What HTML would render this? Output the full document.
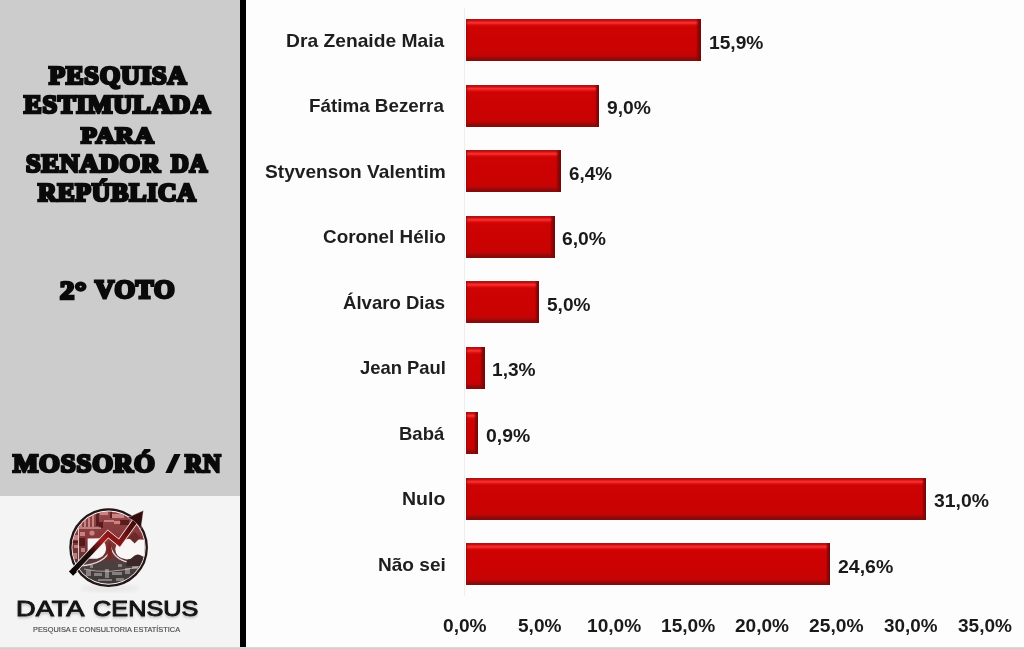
<!DOCTYPE html>
<html><head><meta charset="utf-8"><title>Pesquisa</title>
<style>
html,body{margin:0;padding:0;}
body{width:1024px;height:649px;position:relative;overflow:hidden;background:#fdfdfd;font-family:"Liberation Sans",sans-serif;}
.abs{position:absolute;}
#left{left:-5px;top:-5px;width:246px;height:501px;background:#cccccc;filter:blur(0.6px);}
#logo{left:-5px;top:496px;width:246px;height:160px;background:#f4f4f4;}
#vbar{left:240px;top:-5px;width:6.1px;height:660px;background:#000;filter:blur(0.6px);}
#bline{left:0;top:647.3px;width:1024px;height:3px;background:linear-gradient(#e6e6e6 0,#d2d2d2 0.7px,#cecece 100%);}
#slash{left:164px;top:454px;width:18px;height:19.2px;background:#0a0a0a;clip-path:polygon(1.2px 19.2px,7.6px 19.2px,16.6px 0,10.2px 0);filter:blur(0.5px);}
#axis{left:464px;top:8px;width:1.3px;height:588px;background:#eeeeee;}
.x{filter:blur(0.45px);position:absolute;white-space:nowrap;transform-origin:0 0;line-height:1;font-weight:bold;}
.t{font-family:"Liberation Serif",serif;color:#0a0a0a;-webkit-text-stroke:3.1px #0a0a0a;font-size:28px;letter-spacing:0.9px;}
.lab{color:#1e1e1e;font-size:18px;}
.val{color:#1a1a1a;font-size:19px;}
.ax{color:#1a1a1a;font-size:19px;}
.dc{color:#141414;font-size:23px;font-weight:normal;-webkit-text-stroke:1.0px #141414;text-shadow:0 1.5px 2.5px rgba(0,0,0,0.28);}
.sub{color:#4c4c4c;font-size:7px;font-weight:normal;-webkit-text-stroke:0.15px #4c4c4c;}
.bar{filter:blur(0.5px);position:absolute;height:42px;box-sizing:border-box;background:linear-gradient(to bottom,#b01010 0,#b81212 1.4px,#d81c1c 2.4px,#fa2c2c 3.3px,#f62626 4.4px,#dc0c0c 5.8px,#ce0303 7.5px,#cc0202 50%,#c80303 85%,#b00808 90%,#900a0a 94%,#840a0a 100%);}
.bar:after{content:"";position:absolute;right:0;top:0;bottom:0;width:4.4px;background:linear-gradient(to right,rgba(140,6,6,0),rgba(134,6,6,0.75) 38%,#800808 65%,#720606);}
.bar:before{content:"";position:absolute;left:0;top:0;bottom:0;width:2px;background:linear-gradient(to right,rgba(150,10,10,0.85),rgba(190,10,10,0));}
</style></head><body>
<div id="left" class="abs"></div>
<div id="logo" class="abs"></div>
<div id="vbar" class="abs"></div>
<div id="axis" class="abs"></div>
<div id="slash" class="abs"></div>

<svg class="abs" style="left:0;top:496px;" width="240" height="153" viewBox="0 496 240 153">
<defs>
<clipPath id="cc"><circle cx="108.6" cy="547.6" r="36.2"/></clipPath>
<linearGradient id="ag" gradientUnits="userSpaceOnUse" x1="72" y1="572" x2="143" y2="511">
<stop offset="0" stop-color="#0a0606"/><stop offset="0.28" stop-color="#1e0a0a"/><stop offset="0.46" stop-color="#a01c1c"/><stop offset="0.6" stop-color="#861616"/><stop offset="0.8" stop-color="#4a0c0c"/><stop offset="1" stop-color="#260606"/>
</linearGradient>
<linearGradient id="cg" gradientUnits="userSpaceOnUse" x1="0" y1="510" x2="0" y2="586">
<stop offset="0" stop-color="#96484a"/><stop offset="0.4" stop-color="#843436"/><stop offset="0.62" stop-color="#643434"/><stop offset="0.72" stop-color="#4a4040"/><stop offset="1" stop-color="#3c3838"/>
</linearGradient>
<filter id="bl" x="-10%" y="-10%" width="120%" height="120%"><feGaussianBlur stdDeviation="0.6"/></filter>
<filter id="bl2" x="-20%" y="-20%" width="140%" height="140%"><feGaussianBlur stdDeviation="2.2"/></filter>
</defs>
<ellipse cx="110" cy="588.5" rx="30" ry="3" fill="#000" opacity="0.06" filter="url(#bl2)"/>
<g filter="url(#bl)">
<circle cx="108.6" cy="547.6" r="38.2" fill="#fdf4f4" stroke="#241616" stroke-width="2.3"/>
<g clip-path="url(#cc)">
<rect x="60" y="500" width="100" height="100" fill="url(#cg)"/>
<g fill="#e0a0a0" opacity="0.7">
<rect x="80" y="519" width="2" height="8"/><rect x="84" y="516" width="2" height="11"/><rect x="88" y="518" width="2" height="9"/><rect x="92" y="514" width="2" height="13"/>
<rect x="100" y="512" width="8" height="3"/><rect x="112" y="514" width="12" height="4"/><rect x="104" y="520" width="10" height="2"/><rect x="114" y="521" width="7" height="3"/>
<rect x="74" y="535" width="4" height="5"/><rect x="74" y="545" width="5" height="3"/><rect x="73" y="553" width="4" height="6"/><rect x="80" y="532" width="5" height="4"/><rect x="81" y="548" width="4" height="4"/>
<circle cx="92" cy="533" r="2.6"/>
</g>
<g fill="#421212" opacity="0.7">
<rect x="96" y="510" width="3" height="16"/><rect x="110" y="508" width="2" height="10"/><rect x="70" y="541" width="12" height="2"/>
<rect x="120" y="520" width="9" height="5"/><rect x="99" y="522" width="4" height="6"/><rect x="79" y="538" width="6" height="8"/>
</g>
<g fill="#c0b8b8" opacity="0.55">
<rect x="86" y="570" width="5" height="6"/><rect x="94" y="573" width="8" height="3"/><rect x="105" y="569" width="4" height="9"/><rect x="112" y="572" width="10" height="3"/><rect x="125" y="568" width="5" height="6"/>
<rect x="98" y="579" width="14" height="2"/><rect x="116" y="578" width="8" height="3"/><rect x="90" y="565" width="3" height="3"/><rect x="118" y="564" width="4" height="3"/><rect x="132" y="566" width="6" height="3"/>
</g>
<path d="M78.5 528 L78.5 562 M78.5 528 L101 528" stroke="#f4dede" stroke-width="1.1" fill="none" opacity="0.85"/>
<path d="M80 566 Q106 564 111 548 Q118 567 146 561" stroke="#f6e8e8" stroke-width="1.2" fill="none" opacity="0.9"/>
<path d="M84 569 Q108 575 142 566" stroke="#e8dada" stroke-width="0.9" fill="none" opacity="0.7"/>
<!-- D counter -->
<path d="M87.6 538.6 L101 538.2 Q106.4 543 106 550 Q104.6 557 97 558.8 L87.6 558.8 Z" fill="#fbf6f6"/>
<!-- C white -->
<path d="M148 540 L128 539 Q116 540 115.2 549 Q115.6 558.6 127 559.4 L133 558.6 L148 557 Z" fill="#fbf6f6"/>
<path d="M127 560 Q131.5 559 134 556 Q137 553.2 141 555.4 L147 559 L146 566 L126 566 Z" fill="#3c2828"/>
<rect x="130.4" y="533.4" width="8.4" height="8.4" transform="rotate(45 134.6 537.6)" fill="#6a2a2a"/>
<path d="M109.4 541.5 Q114.4 551 109.4 561 Q104.6 551 109.4 541.5 Z" fill="#7c2424"/>
</g>
<g fill="none" stroke-linejoin="miter" stroke-linecap="butt">
<path d="M73.4 570.8 L108.0 534.0 L119.4 543.2 L136 520.0" stroke="#f8e6e6" stroke-width="6.6"/>
<path d="M73.4 570.8 L108.0 534.0 L119.4 543.2 L136 520.0" stroke="url(#ag)" stroke-width="5"/>
</g>
<path d="M143.4 510.6 L127.8 517.6 L133.4 520.6 L137.6 524.4 L140.8 529.2 Z" fill="#300808" stroke="#f6e4e4" stroke-width="0.4"/>
<path d="M70.8 569.6 L75.0 573.8" stroke="#0a0606" stroke-width="5.4"/>
</g>
</svg>

<div class="bar" style="left:466.0px;top:19.30px;width:234.8px;"></div>
<div class="bar" style="left:466.0px;top:84.78px;width:133.4px;"></div>
<div class="bar" style="left:466.0px;top:150.26px;width:94.8px;"></div>
<div class="bar" style="left:466.0px;top:215.74px;width:88.5px;"></div>
<div class="bar" style="left:466.0px;top:281.22px;width:73.2px;"></div>
<div class="bar" style="left:466.0px;top:346.70px;width:18.5px;"></div>
<div class="bar" style="left:466.0px;top:412.18px;width:12.1px;"></div>
<div class="bar" style="left:466.0px;top:477.66px;width:459.9px;"></div>
<div class="bar" style="left:466.0px;top:543.14px;width:364.3px;"></div>
<div class="x t" style="left:48.54px;top:63.82px;transform:scale(0.9392,0.8800);">PESQUISA</div>
<div class="x t" style="left:24.04px;top:93.15px;transform:scale(0.9408,0.8659);">ESTIMULADA</div>
<div class="x t" style="left:80.93px;top:123.27px;transform:scale(0.9263,0.8565);">PARA</div>
<div class="x t" style="left:25.90px;top:151.72px;transform:scale(0.9410,0.8800);">SENADOR</div>
<div class="x t" style="left:171.38px;top:151.72px;transform:scale(0.8800,0.8800);">DA</div>
<div class="x t" style="left:37.92px;top:181.03px;transform:scale(0.9175,0.8753);">REPÚBLICA</div>
<div class="x t" style="left:59.65px;top:278.64px;transform:scale(1.0151,0.8791);">2°</div>
<div class="x t" style="left:95.38px;top:278.40px;transform:scale(0.9450,0.8894);">VOTO</div>
<div class="x t" style="left:12.65px;top:452.21px;transform:scale(0.9549,0.8847);">MOSSORÓ</div>
<div class="x t" style="left:184.86px;top:452.21px;transform:scale(0.8621,0.8847);">RN</div>
<div class="x lab" style="left:286.06px;top:31.69px;transform:scale(1.0694,1.0204);">Dra Zenaide Maia</div>
<div class="x val" style="left:708.74px;top:32.76px;transform:scale(1.0105,0.9926);">15,9%</div>
<div class="x lab" style="left:309.49px;top:97.17px;transform:scale(1.0453,1.0204);">Fátima Bezerra</div>
<div class="x val" style="left:606.64px;top:98.24px;transform:scale(1.0143,0.9926);">9,0%</div>
<div class="x lab" style="left:264.97px;top:162.65px;transform:scale(1.0629,1.0204);">Styvenson Valentim</div>
<div class="x val" style="left:569.06px;top:163.72px;transform:scale(0.9905,0.9926);">6,4%</div>
<div class="x lab" style="left:322.71px;top:228.13px;transform:scale(1.0485,1.0204);">Coronel Hélio</div>
<div class="x val" style="left:562.14px;top:229.20px;transform:scale(1.0167,0.9926);">6,0%</div>
<div class="x lab" style="left:343.28px;top:293.61px;transform:scale(1.0312,1.0204);">Álvaro Dias</div>
<div class="x val" style="left:547.30px;top:294.68px;transform:scale(1.0036,0.9926);">5,0%</div>
<div class="x lab" style="left:359.94px;top:359.09px;transform:scale(1.0230,1.0204);">Jean Paul</div>
<div class="x val" style="left:492.34px;top:360.16px;transform:scale(1.0072,0.9926);">1,3%</div>
<div class="x lab" style="left:399.42px;top:424.57px;transform:scale(1.0269,1.0204);">Babá</div>
<div class="x val" style="left:485.63px;top:425.64px;transform:scale(1.0214,0.9926);">0,9%</div>
<div class="x lab" style="left:402.04px;top:490.05px;transform:scale(1.0842,1.0204);">Nulo</div>
<div class="x val" style="left:933.69px;top:491.12px;transform:scale(1.0208,0.9926);">31,0%</div>
<div class="x lab" style="left:378.18px;top:555.53px;transform:scale(1.0585,1.0204);">Não sei</div>
<div class="x val" style="left:837.73px;top:556.60px;transform:scale(1.0256,0.9926);">24,6%</div>
<div class="x ax" style="left:443.14px;top:616.15px;transform:scale(1.0071,1.0000);">0,0%</div>
<div class="x ax" style="left:517.80px;top:616.15px;transform:scale(1.0036,1.0000);">5,0%</div>
<div class="x ax" style="left:586.64px;top:616.15px;transform:scale(1.0067,1.0000);">10,0%</div>
<div class="x ax" style="left:661.04px;top:616.15px;transform:scale(1.0067,1.0000);">15,0%</div>
<div class="x ax" style="left:734.95px;top:616.15px;transform:scale(1.0028,1.0000);">20,0%</div>
<div class="x ax" style="left:808.84px;top:616.15px;transform:scale(1.0123,1.0000);">25,0%</div>
<div class="x ax" style="left:883.80px;top:616.15px;transform:scale(0.9925,1.0000);">30,0%</div>
<div class="x ax" style="left:957.60px;top:616.15px;transform:scale(1.0019,1.0000);">35,0%</div>
<div class="x dc" style="left:16.03px;top:598.02px;transform:scale(1.1825,0.9731);">DATA</div>
<div class="x dc" style="left:93.18px;top:598.02px;transform:scale(1.0995,0.9731);">CENSUS</div>
<div class="x sub" style="left:33.17px;top:624.60px;transform:scale(1.0540,1.1400);">PESQUISA E CONSULTORIA ESTATÍSTICA</div>
<div id="bline" class="abs"></div>
</body></html>
